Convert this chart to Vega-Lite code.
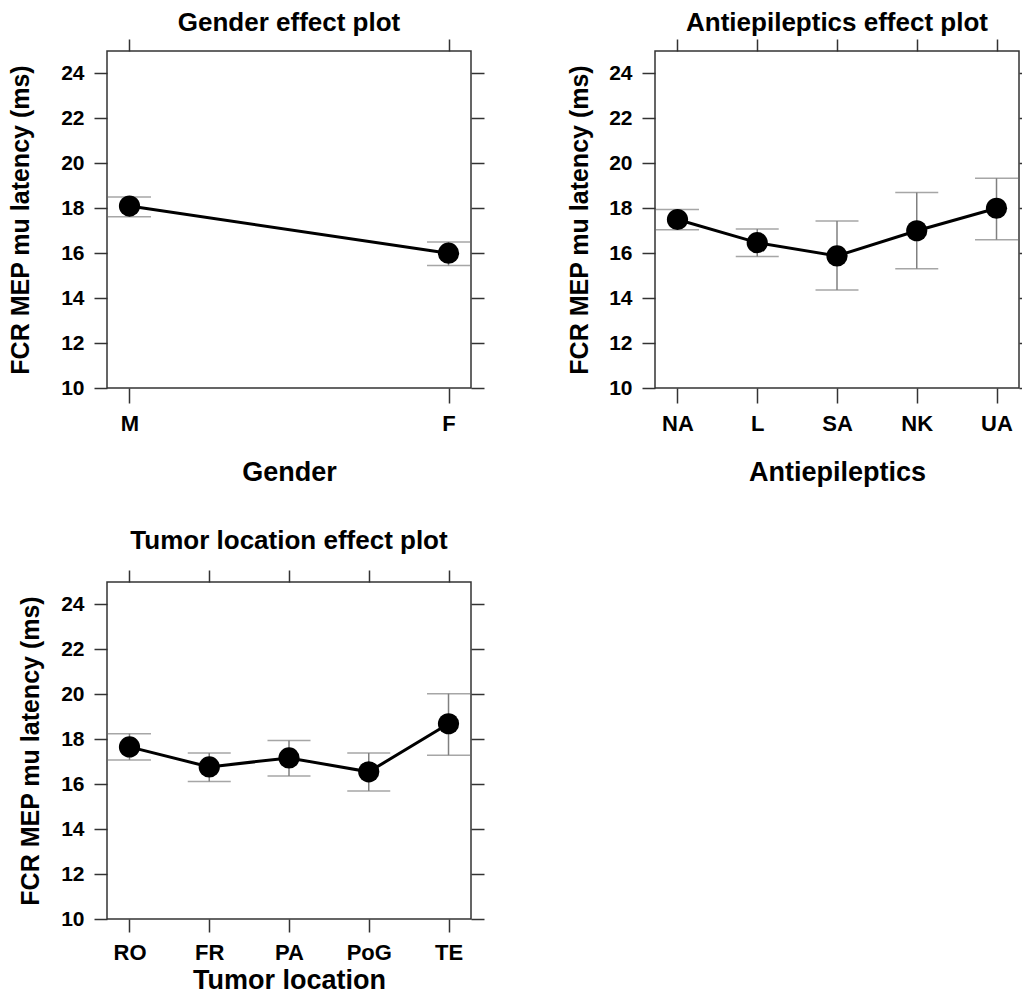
{
  "$schema": "https://vega.github.io/schema/vega-lite/v6.json",
  "padding": {"left": 7, "top": 9, "right": 0, "bottom": 0},
  "background": "white",
  "config": {
    "font": "Liberation Sans",
    "view": {"stroke": "#333333", "strokeWidth": 1.5},
    "axis": {
      "domain": false, "grid": false,
      "tickColor": "#333333", "tickWidth": 1.5,
      "labelFont": "Liberation Sans", "labelFontWeight": "bold", "labelFontSize": 21, "labelColor": "#000000",
      "titleFont": "Liberation Sans", "titleFontWeight": "bold", "titleFontSize": 25, "titleColor": "#000000"
    },
    "axisBottom": {"labelFontSize": 22, "titleFontSize": 27},
    "title": {"font": "Liberation Sans", "fontWeight": "bold", "fontSize": 26, "color": "#000000", "anchor": "middle", "frame": "group"}
  },
  "datasets": {
    "gender": [
      {"cat": "M", "est": 18.1, "lo": 17.62, "hi": 18.5},
      {"cat": "F", "est": 16.0, "lo": 15.45, "hi": 16.5}
    ],
    "aed": [
      {"cat": "NA", "est": 17.5, "lo": 17.04, "hi": 17.95},
      {"cat": "L", "est": 16.47, "lo": 15.85, "hi": 17.08},
      {"cat": "SA", "est": 15.88, "lo": 14.36, "hi": 17.43},
      {"cat": "NK", "est": 17.0, "lo": 15.31, "hi": 18.7},
      {"cat": "UA", "est": 18.0, "lo": 16.6, "hi": 19.34}
    ],
    "tumor": [
      {"cat": "RO", "est": 17.66, "lo": 17.08, "hi": 18.25},
      {"cat": "FR", "est": 16.77, "lo": 16.12, "hi": 17.39},
      {"cat": "PA", "est": 17.17, "lo": 16.37, "hi": 17.94},
      {"cat": "PoG", "est": 16.55, "lo": 15.7, "hi": 17.39},
      {"cat": "TE", "est": 18.69, "lo": 17.29, "hi": 20.03}
    ]
  },
  "columns": 2,
  "bounds": "flush",
  "spacing": {"row": 194, "column": 184},
  "concat": [
    {
      "width": 364, "height": 337,
      "data": {"name": "gender"},
      "title": {"text": "Gender effect plot", "offset": 2},
      "resolve": {"axis": {"x": "independent", "y": "independent"}},
      "layer": [
        {
          "mark": {"type": "rule", "color": "#808080", "strokeWidth": 1.5},
          "encoding": {
            "x": {"field": "cat", "type": "nominal", "sort": null, "scale": {"type": "point", "padding": 0.0705}, "axis": null},
            "y": {"field": "lo", "type": "quantitative", "scale": {"domain": [10, 25], "nice": false, "zero": false}, "axis": null},
            "y2": {"field": "hi"}
          }
        },
        {
          "mark": {"type": "tick", "orient": "horizontal", "color": "#808080", "thickness": 1.5, "size": 43},
          "encoding": {
            "x": {"field": "cat", "type": "nominal", "sort": null, "axis": null},
            "y": {"field": "lo", "type": "quantitative", "axis": null}
          }
        },
        {
          "mark": {"type": "tick", "orient": "horizontal", "color": "#808080", "thickness": 1.5, "size": 43},
          "encoding": {
            "x": {"field": "cat", "type": "nominal", "sort": null, "axis": null},
            "y": {"field": "hi", "type": "quantitative", "axis": null}
          }
        },
        {
          "mark": {"type": "line", "color": "#000000", "strokeWidth": 3},
          "encoding": {
            "x": {"field": "cat", "type": "nominal", "sort": null, "axis": {"orient": "bottom", "title": "Gender", "labelAngle": 0, "tickSize": 15, "labelPadding": 10, "titlePadding": 25}},
            "y": {"field": "est", "type": "quantitative", "axis": {"orient": "left", "title": "FCR MEP mu latency (ms)", "values": [10, 12, 14, 16, 18, 20, 22, 24], "tickSize": 13, "labelPadding": 10, "titlePadding": 27}}
          }
        },
        {
          "mark": {"type": "point", "filled": true, "color": "#000000", "opacity": 1, "size": 450},
          "encoding": {
            "x": {"field": "cat", "type": "nominal", "sort": null, "axis": {"orient": "top", "labels": false, "title": null, "tickSize": 12}},
            "y": {"field": "est", "type": "quantitative", "axis": {"orient": "right", "labels": false, "title": null, "values": [10, 12, 14, 16, 18, 20, 22, 24], "tickSize": 13}}
          }
        }
      ]
    },
    {
      "width": 364, "height": 337,
      "data": {"name": "aed"},
      "title": {"text": "Antiepileptics effect plot", "offset": 2},
      "resolve": {"axis": {"x": "independent", "y": "independent"}},
      "layer": [
        {
          "mark": {"type": "rule", "color": "#808080", "strokeWidth": 1.5},
          "encoding": {
            "x": {"field": "cat", "type": "nominal", "sort": null, "scale": {"type": "point", "padding": 0.282}, "axis": null},
            "y": {"field": "lo", "type": "quantitative", "scale": {"domain": [10, 25], "nice": false, "zero": false}, "axis": null},
            "y2": {"field": "hi"}
          }
        },
        {
          "mark": {"type": "tick", "orient": "horizontal", "color": "#808080", "thickness": 1.5, "size": 43},
          "encoding": {
            "x": {"field": "cat", "type": "nominal", "sort": null, "axis": null},
            "y": {"field": "lo", "type": "quantitative", "axis": null}
          }
        },
        {
          "mark": {"type": "tick", "orient": "horizontal", "color": "#808080", "thickness": 1.5, "size": 43},
          "encoding": {
            "x": {"field": "cat", "type": "nominal", "sort": null, "axis": null},
            "y": {"field": "hi", "type": "quantitative", "axis": null}
          }
        },
        {
          "mark": {"type": "line", "color": "#000000", "strokeWidth": 3},
          "encoding": {
            "x": {"field": "cat", "type": "nominal", "sort": null, "axis": {"orient": "bottom", "title": "Antiepileptics", "labelAngle": 0, "tickSize": 15, "labelPadding": 10, "titlePadding": 25}},
            "y": {"field": "est", "type": "quantitative", "axis": {"orient": "left", "title": "FCR MEP mu latency (ms)", "values": [10, 12, 14, 16, 18, 20, 22, 24], "tickSize": 13, "labelPadding": 10, "titlePadding": 16}}
          }
        },
        {
          "mark": {"type": "point", "filled": true, "color": "#000000", "opacity": 1, "size": 450},
          "encoding": {
            "x": {"field": "cat", "type": "nominal", "sort": null, "axis": {"orient": "top", "labels": false, "title": null, "tickSize": 12}},
            "y": {"field": "est", "type": "quantitative", "axis": {"orient": "right", "labels": false, "title": null, "values": [10, 12, 14, 16, 18, 20, 22, 24], "tickSize": 13}}
          }
        }
      ]
    },
    {
      "width": 364, "height": 337,
      "data": {"name": "tumor"},
      "title": {"text": "Tumor location effect plot", "offset": 15},
      "resolve": {"axis": {"x": "independent", "y": "independent"}},
      "layer": [
        {
          "mark": {"type": "rule", "color": "#808080", "strokeWidth": 1.5},
          "encoding": {
            "x": {"field": "cat", "type": "nominal", "sort": null, "scale": {"type": "point", "padding": 0.282}, "axis": null},
            "y": {"field": "lo", "type": "quantitative", "scale": {"domain": [10, 25], "nice": false, "zero": false}, "axis": null},
            "y2": {"field": "hi"}
          }
        },
        {
          "mark": {"type": "tick", "orient": "horizontal", "color": "#808080", "thickness": 1.5, "size": 43},
          "encoding": {
            "x": {"field": "cat", "type": "nominal", "sort": null, "axis": null},
            "y": {"field": "lo", "type": "quantitative", "axis": null}
          }
        },
        {
          "mark": {"type": "tick", "orient": "horizontal", "color": "#808080", "thickness": 1.5, "size": 43},
          "encoding": {
            "x": {"field": "cat", "type": "nominal", "sort": null, "axis": null},
            "y": {"field": "hi", "type": "quantitative", "axis": null}
          }
        },
        {
          "mark": {"type": "line", "color": "#000000", "strokeWidth": 3},
          "encoding": {
            "x": {"field": "cat", "type": "nominal", "sort": null, "axis": {"orient": "bottom", "title": "Tumor location", "labelAngle": 0, "tickSize": 13, "labelPadding": 10, "titlePadding": 4}},
            "y": {"field": "est", "type": "quantitative", "axis": {"orient": "left", "title": "FCR MEP mu latency (ms)", "values": [10, 12, 14, 16, 18, 20, 22, 24], "tickSize": 13, "labelPadding": 10, "titlePadding": 17}}
          }
        },
        {
          "mark": {"type": "point", "filled": true, "color": "#000000", "opacity": 1, "size": 450},
          "encoding": {
            "x": {"field": "cat", "type": "nominal", "sort": null, "axis": {"orient": "top", "labels": false, "title": null, "tickSize": 12}},
            "y": {"field": "est", "type": "quantitative", "axis": {"orient": "right", "labels": false, "title": null, "values": [10, 12, 14, 16, 18, 20, 22, 24], "tickSize": 13}}
          }
        }
      ]
    }
  ]
}
